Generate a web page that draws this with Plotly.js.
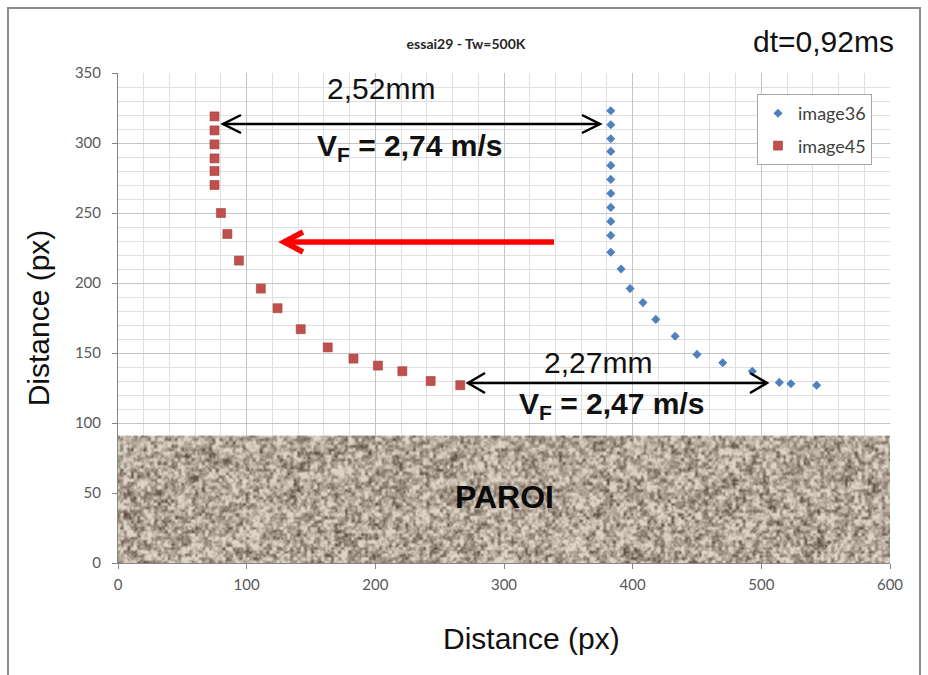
<!DOCTYPE html>
<html>
<head>
<meta charset="utf-8">
<script src="https://cdn.plot.ly/plotly-3.0.1.min.js"></script>
<style>html,body{margin:0;padding:0;background:#fff;}#chart{width:928px;height:675px;}</style>
</head>
<body>
<div id="chart"></div>
<script>
// ---- data ----
const seriesNames = ['image36', 'image45'];
const xImage36 = [383, 383, 383, 383, 383, 383, 383, 383, 383, 383, 383, 391, 398, 408, 418, 433, 450, 470, 493, 514, 523, 543];
const yImage36 = [323, 313, 303, 294, 284, 274, 264, 254, 244, 234, 222, 210, 196, 186, 174, 162, 149, 143, 137, 129, 128, 127];
const xImage45 = [75, 75, 75, 75, 75, 75, 80, 85, 94, 111, 124, 142, 163, 183, 202, 221, 243, 266];
const yImage45 = [319, 309, 299, 289, 280, 270, 250, 235, 216, 196, 182, 167, 154, 146, 141, 137, 130, 127];
const xTicks = [0, 100, 200, 300, 400, 500, 600];
const yTicks = [0, 50, 100, 150, 200, 250, 300, 350];
const wallTop = 91;          // top of the "PAROI" wall (axis units)
const xRange = [0, 600];
const yRange = [0, 350];

// ---- layout geometry helpers (plot area in pixels) ----
const W = 928, H = 675, L = 118, R = 890, T = 73, B = 563;
const PX = px => (px - L) / (R - L);   // pixel -> paper x
const PY = py => (B - py) / (B - T);   // pixel -> paper y
function pathPx(pts) { return pts.map((p, i) => (i ? 'L' : 'M') + PX(p[0]).toFixed(5) + ',' + PY(p[1]).toFixed(5)).join(' '); }

// ---- gravel texture for the wall (decoration only, deterministic) ----
function gravelTexture(w, h) {
  const c = document.createElement('canvas'); c.width = w; c.height = h;
  const ctx = c.getContext('2d'); const img = ctx.createImageData(w, h);
  let s = 987654321;
  const rnd = () => { s = (Math.imul(s, 1664525) + 1013904223) >>> 0; return s / 4294967296; };
  function grid(cell) {
    const gw = Math.ceil(w / cell) + 2, gh = Math.ceil(h / cell) + 2;
    const g = new Float32Array(gw * gh); for (let i = 0; i < g.length; i++) g[i] = rnd();
    return { cell, gw, g };
  }
  function sample(G, x, y) {
    const fx = x / G.cell, fy = y / G.cell, x0 = Math.floor(fx), y0 = Math.floor(fy);
    let tx = fx - x0, ty = fy - y0; tx = tx * tx * (3 - 2 * tx); ty = ty * ty * (3 - 2 * ty);
    const a = G.g[y0 * G.gw + x0], b = G.g[y0 * G.gw + x0 + 1], c2 = G.g[(y0 + 1) * G.gw + x0], d = G.g[(y0 + 1) * G.gw + x0 + 1];
    return (a * (1 - tx) + b * tx) * (1 - ty) + (c2 * (1 - tx) + d * tx) * ty;
  }
  const G1 = grid(3.4), G2 = grid(2.0), G3 = grid(10);
  const dark = [98, 84, 70], light = [222, 212, 198];
  for (let y = 0; y < h; y++) for (let x = 0; x < w; x++) {
    const v = 0.55 * sample(G1, x, y) + 0.28 * sample(G2, x, y) + 0.17 * sample(G3, x, y);
    let t = (v - 0.5) * 1.7 + 0.6; t = Math.max(0, Math.min(1, t));
    t = Math.pow(t, 0.85);
    const k = (y * w + x) * 4;
    img.data[k] = dark[0] + (light[0] - dark[0]) * t;
    img.data[k + 1] = dark[1] + (light[1] - dark[1]) * t;
    img.data[k + 2] = dark[2] + (light[2] - dark[2]) * t;
    img.data[k + 3] = 255;
  }
  ctx.putImageData(img, 0, 0);
  return c.toDataURL('image/png');
}

const tickFont = { family: 'Lato, "Open Sans", sans-serif', size: 15, color: '#595959' };
const bigFont = { family: '"Liberation Sans", Arial, sans-serif', size: 30, color: '#111' };

const traces = [
  { x: xImage36, y: yImage36, name: seriesNames[0], type: 'scatter', mode: 'markers', legendgroup: 'a',
    marker: { symbol: 'diamond', size: 7, color: '#4F81BD', line: { width: 0 } } },
  { x: xImage45, y: yImage45, name: seriesNames[1], type: 'scatter', mode: 'markers', legendgroup: 'b',
    marker: { symbol: 'square', size: 9, color: '#C0504D', line: { width: 0.6, color: '#A23E3B' } } }
];

function ann(text, px, py, font, extra) {
  return Object.assign({ text, xref: 'paper', yref: 'paper', x: PX(px), y: PY(py), xanchor: 'center', yanchor: 'middle', showarrow: false, font }, extra || {});
}

const layout = {
  width: W, height: H, autosize: false,
  margin: { l: L, r: W - R, t: T, b: H - B, pad: 0 },
  paper_bgcolor: '#ffffff', plot_bgcolor: '#ffffff',
  title: { text: '<b>essai29 - Tw=500K</b>', x: 466 / W, xanchor: 'center', y: 1 - 44 / H, yanchor: 'middle',
           font: { family: 'Lato, "Open Sans", sans-serif', size: 14, color: '#262626' } },
  showlegend: true,
  legend: { x: PX(757), y: PY(94), xanchor: 'left', yanchor: 'top', bgcolor: '#ffffff', bordercolor: '#a6a6a6', borderwidth: 1,
            font: { family: 'Lato, "Open Sans", sans-serif', size: 18, color: '#404040' }, tracegroupgap: 6, traceorder: 'grouped', itemwidth: 30 },
  xaxis: { range: xRange, tickvals: xTicks, ticktext: xTicks.map(String), showgrid: true, gridcolor: '#c4c4c4', gridwidth: 1,
           minor: { dtick: 20, showgrid: true, gridcolor: '#dfdfdf', gridwidth: 1 },
           zeroline: false, showline: true, linecolor: '#868686', linewidth: 1, ticks: 'outside', ticklen: 5, tickcolor: '#868686',
           tickfont: tickFont, ticklabelstandoff: 3, fixedrange: true },
  yaxis: { range: yRange, tickvals: yTicks, ticktext: yTicks.map(String), showgrid: true, gridcolor: '#c4c4c4', gridwidth: 1,
           minor: { dtick: 10, showgrid: true, gridcolor: '#dfdfdf', gridwidth: 1 },
           zeroline: false, showline: true, linecolor: '#868686', linewidth: 1, ticks: 'outside', ticklen: 5, tickcolor: '#868686',
           tickfont: tickFont, ticklabelstandoff: 8, fixedrange: true,
           title: { text: 'Distance (px)', font: { family: '"Liberation Sans", Arial, sans-serif', size: 30, color: '#111' }, standoff: 16 } },
  images: [{ source: gravelTexture(R - L, Math.round((B - T) * wallTop / yRange[1])), xref: 'x', yref: 'y', x: 0, y: wallTop,
             sizex: xRange[1], sizey: wallTop, xanchor: 'left', yanchor: 'top', sizing: 'stretch', layer: 'above' }],
  shapes: [
    // outer frame
    { type: 'rect', xref: 'paper', yref: 'paper', x0: PX(8), x1: PX(920), y0: PY(8), y1: PY(690), line: { color: '#8c8c8c', width: 2 }, fillcolor: 'rgba(0,0,0,0)' },
    // black double arrow (top)
    { type: 'path', xref: 'paper', yref: 'paper', path: pathPx([[223, 124], [599, 124]]), line: { color: '#000', width: 2.5 } },
    { type: 'path', xref: 'paper', yref: 'paper', path: pathPx([[241, 115], [223, 124], [241, 133]]), line: { color: '#000', width: 2.5 } },
    { type: 'path', xref: 'paper', yref: 'paper', path: pathPx([[582, 115], [600, 124], [582, 133]]), line: { color: '#000', width: 2.5 } },
    // black double arrow (bottom)
    { type: 'path', xref: 'paper', yref: 'paper', path: pathPx([[468, 383], [766, 383]]), line: { color: '#000', width: 2.5 } },
    { type: 'path', xref: 'paper', yref: 'paper', path: pathPx([[485, 373], [468, 383], [485, 393]]), line: { color: '#000', width: 2.5 } },
    { type: 'path', xref: 'paper', yref: 'paper', path: pathPx([[750, 373], [767, 383], [750, 393]]), line: { color: '#000', width: 2.5 } },
    // red arrow
    { type: 'path', xref: 'paper', yref: 'paper', path: pathPx([[286, 242], [554, 242]]), line: { color: '#ff0000', width: 5.5 } },
    { type: 'path', xref: 'paper', yref: 'paper', path: pathPx([[303, 232], [284, 242], [303, 252]]), line: { color: '#ff0000', width: 5.5 } }
  ],
  annotations: [
    ann('dt=0,92ms', 823, 41, bigFont),
    ann('2,52mm', 381, 89, bigFont),
    ann('<b>V<sub>F</sub> = 2,74 m/s</b>', 409, 148, bigFont),
    ann('2,27mm', 598, 362, bigFont),
    ann('<b>V<sub>F</sub> = 2,47 m/s</b>', 611, 406, bigFont),
    ann('<b>PAROI</b>', 504, 497, { family: '"Liberation Sans", Arial, sans-serif', size: 32, color: '#0a0a0a' }),
    ann('Distance (px)', 531, 638, bigFont)
  ]
};

Plotly.newPlot('chart', traces, layout, { displayModeBar: false, staticPlot: true });
</script>
</body>
</html>
